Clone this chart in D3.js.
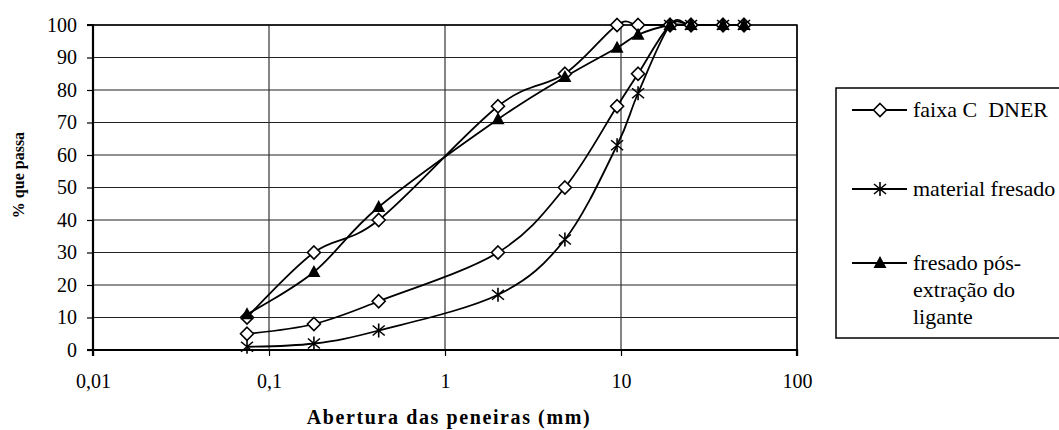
<!DOCTYPE html>
<html>
<head>
<meta charset="utf-8">
<script src="https://cdn.jsdelivr.net/npm/d3@7"></script>
<style>
  html, body { margin: 0; padding: 0; background: #fff; }
  svg { display: block; }
  text { font-family: "Liberation Serif", "Times New Roman", serif; fill: #000; }
</style>
</head>
<body>
<svg id="chart" width="1059" height="430"></svg>
<script>
// Sieve openings (mm) and percent passing for each curve
const sieves = [0.075, 0.18, 0.42, 2.0, 4.8, 9.5, 12.5, 19, 25, 38, 50];
const faixaInferior = [5, 8, 15, 30, 50, 75, 85, 100, 100, 100, 100];
const faixaSuperior = [10, 30, 40, 75, 85, 100, 100, 100, 100, 100, 100];
const materialFresado = [1, 2, 6, 17, 34, 63, 79, 100, 100, 100, 100];
const fresadoPosExtracao = [11, 24, 44, 71, 84, 93, 97, 100, 100, 100, 100];

const xTicks = [0.01, 0.1, 1, 10, 100];
const xTickLabels = ["0,01", "0,1", "1", "10", "100"];
const yTicks = [0, 10, 20, 30, 40, 50, 60, 70, 80, 90, 100];

const legendNames = ["faixa C  DNER", "material fresado", "fresado pós-|extração do|ligante"];

const svg = d3.select("#chart");
const plot = { left: 93, right: 797, top: 25, bottom: 350 };

const x = d3.scaleLog().domain([0.01, 100]).range([plot.left, plot.right]);
const y = d3.scaleLinear().domain([0, 100]).range([plot.bottom, plot.top]);

// Grid
const grid = svg.append("g");
grid.selectAll("line.h").data(yTicks.filter(d => d > 0)).join("line")
  .attr("x1", plot.left).attr("x2", plot.right)
  .attr("y1", d => y(d)).attr("y2", d => y(d))
  .attr("stroke", "#222").attr("stroke-width", 1.2);
grid.selectAll("line.v").data(xTicks.slice(1)).join("line")
  .attr("x1", d => x(d)).attr("x2", d => x(d))
  .attr("y1", plot.top).attr("y2", plot.bottom)
  .attr("stroke", "#333").attr("stroke-width", 1.2);

// Axes
const yAxis = svg.append("g").attr("transform", `translate(${plot.left},0)`)
  .call(d3.axisLeft(y).tickValues(yTicks).tickSize(6).tickPadding(10).tickFormat(d3.format("d")));
const xAxis = svg.append("g").attr("transform", `translate(0,${plot.bottom})`)
  .call(d3.axisBottom(x).tickValues(xTicks).tickSize(6).tickPadding(18)
    .tickFormat((d, i) => xTickLabels[i]));
[yAxis, xAxis].forEach(a => {
  a.select(".domain").attr("stroke", "#000").attr("stroke-width", 2.2);
  a.selectAll(".tick line").attr("stroke", "#000").attr("stroke-width", 1.2);
  a.selectAll(".tick text").attr("font-size", 20).attr("font-family", "Liberation Serif").attr("fill", "#000");
});
xAxis.select(".domain").attr("d", `M${plot.left},6V0H${plot.right}V6`);
yAxis.select(".domain").attr("d", `M-6,${plot.top}H0V${plot.bottom}H-6`);

// Top and right border
svg.append("path")
  .attr("d", `M${plot.left},${plot.top}H${plot.right}V${plot.bottom}`)
  .attr("fill", "none").attr("stroke", "#000").attr("stroke-width", 1.5);

// Axis titles
svg.append("text")
  .attr("transform", `translate(24,175) rotate(-90)`)
  .attr("text-anchor", "middle").attr("font-weight", "bold").attr("font-size", 16)
  .text("% que passa");
svg.append("text")
  .attr("x", 449).attr("y", 424)
  .attr("text-anchor", "middle").attr("font-weight", "bold").attr("font-size", 20)
  .attr("letter-spacing", 1.6)
  .text("Abertura das peneiras (mm)");

// Curves
const line = d3.line().x(d => x(d[0])).y(d => y(d[1])).curve(d3.curveCardinal.tension(0));
const pairs = vals => sieves.map((s, i) => [s, vals[i]]);

const series = [
  { values: faixaInferior, marker: "diamond" },
  { values: faixaSuperior, marker: "diamond" },
  { values: materialFresado, marker: "star" },
  { values: fresadoPosExtracao, marker: "triangle" }
];

function drawMarker(g, type) {
  if (type === "diamond") {
    g.append("path").attr("d", "M0,-6.5L6.5,0L0,6.5L-6.5,0Z")
      .attr("fill", "#fff").attr("stroke", "#000").attr("stroke-width", 1.6);
  } else if (type === "triangle") {
    g.append("path").attr("d", "M0,-7L6.5,5L-6.5,5Z").attr("fill", "#000");
  } else {
    g.append("path").attr("d", "M0,-7V7M-6,-5L6,5M-6,5L6,-5")
      .attr("fill", "none").attr("stroke", "#000").attr("stroke-width", 1.6);
  }
}

series.forEach(s => {
  svg.append("path").datum(pairs(s.values)).attr("d", line)
    .attr("fill", "none").attr("stroke", "#000").attr("stroke-width", 1.8);
});
series.forEach(s => {
  pairs(s.values).forEach(p => {
    const g = svg.append("g").attr("transform", `translate(${x(p[0])},${y(p[1])})`);
    drawMarker(g, s.marker);
  });
});

// Legend
const legend = svg.append("g");
legend.append("rect").attr("x", 836).attr("y", 88).attr("width", 300).attr("height", 250)
  .attr("fill", "#fff").attr("stroke", "#000").attr("stroke-width", 1.5);
const legendItems = [
  { marker: "diamond", y: 110 },
  { marker: "star", y: 189 },
  { marker: "triangle", y: 263 }
];
legendItems.forEach((it, i) => {
  const g = legend.append("g");
  g.append("line").attr("x1", 852).attr("x2", 907).attr("y1", it.y).attr("y2", it.y)
    .attr("stroke", "#000").attr("stroke-width", 1.8);
  drawMarker(g.append("g").attr("transform", `translate(880,${it.y})`), it.marker);
  const t = g.append("text").attr("x", 913).attr("y", it.y + 7).attr("font-size", 22)
    .style("white-space", "pre");
  legendNames[i].split("|").forEach((ln, k) => {
    t.append("tspan").attr("x", 913).attr("dy", k === 0 ? 0 : 27).text(ln);
  });
});
</script>
</body>
</html>
